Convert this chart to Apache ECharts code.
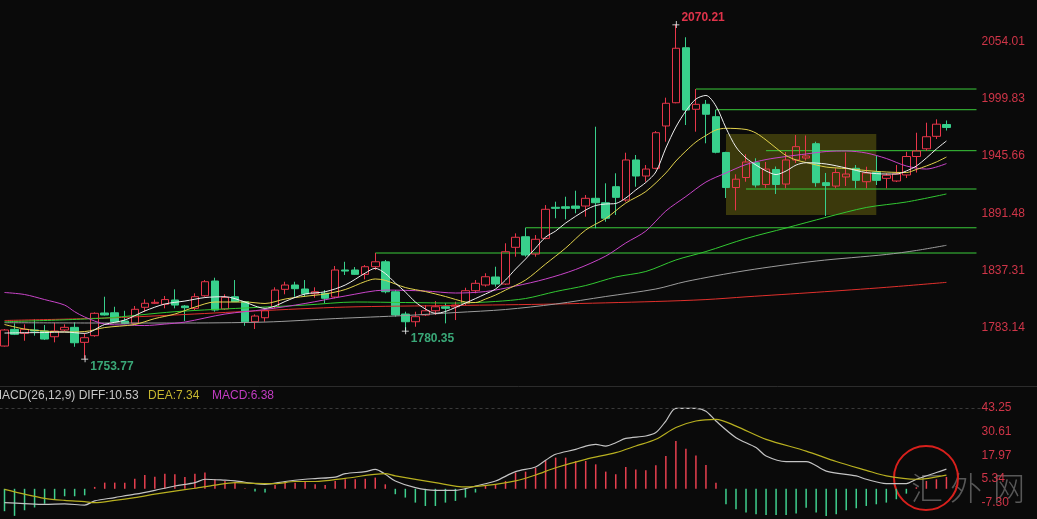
<!DOCTYPE html>
<html>
<head>
<meta charset="utf-8">
<script src="https://cdn.jsdelivr.net/npm/echarts@6/dist/echarts.min.js"></script>
<style>
  html, body { margin: 0; padding: 0; background: #0a0a0a; }
  #chart { width: 1037px; height: 519px; }
</style>
</head>
<body>
<div id="chart"></div>
<script>
// Daily candles: open / close / low / high
const opens = [1765.8,1781.6,1777.8,1781.0,1780.0,1774.6,1781.0,1783.5,1769.3,1775.6,
  1797.1,1797.3,1789.5,1787.3,1802.5,1806.3,1805.3,1809.4,1803.7,1801.5,
  1813.4,1827.4,1800.9,1812.5,1807.8,1788.8,1792.6,1803.0,1819.5,1823.6,
  1819.8,1815.3,1815.7,1812.2,1837.8,1837.8,1833.7,1840.9,1845.6,1817.2,
  1796.1,1788.8,1795.2,1799.2,1803.0,1803.0,1806.3,1818.2,1823.6,1831.2,
  1824.5,1859.3,1869.3,1852.9,1867.8,1897.2,1897.7,1898.4,1898.4,1905.7,
  1901.5,1916.7,1904.1,1942.0,1926.8,1934.1,1974.2,1996.2,2048.3,1990.0,
  1994.7,1983.0,1949.1,1915.9,1925.4,1939.4,1918.8,1933.0,1919.2,1942.0,
  1943.9,1957.4,1920.5,1917.3,1925.9,1934.1,1921.4,1930.4,1924.6,1922.1,
  1927.8,1945.3,1952.6,1964.4,1975.6];
const closes = [1781.0,1776.9,1781.6,1780.0,1772.4,1780.0,1783.5,1768.9,1773.7,1796.8,
  1795.2,1788.8,1787.1,1800.6,1806.3,1807.2,1809.8,1804.6,1802.1,1812.5,
  1826.7,1799.9,1811.9,1807.8,1788.8,1794.2,1799.2,1818.8,1823.6,1820.1,
  1815.3,1817.2,1811.0,1837.8,1836.8,1833.7,1840.9,1845.6,1817.2,1795.2,
  1788.8,1793.6,1799.2,1803.0,1801.5,1804.6,1818.2,1825.2,1831.4,1824.5,
  1855.1,1868.8,1852.0,1866.9,1895.3,1896.2,1896.2,1896.2,1905.7,1901.5,
  1886.8,1906.6,1942.0,1926.8,1933.4,1967.8,1995.7,2047.8,1989.3,1994.7,
  1985.3,1949.3,1915.9,1923.8,1940.1,1918.3,1933.4,1918.8,1942.0,1954.6,
  1945.8,1920.5,1917.8,1930.1,1928.7,1922.7,1929.7,1922.7,1927.5,1928.7,
  1945.3,1950.5,1964.0,1975.9,1972.8];
const lows = [1765.3,1776.2,1770.8,1775.6,1771.5,1769.3,1780.0,1765.1,1753.77,1774.6,
  1794.7,1788.3,1786.4,1786.6,1798.3,1805.6,1801.5,1801.5,1789.5,1799.9,
  1812.5,1798.3,1799.9,1807.5,1785.0,1781.9,1788.8,1801.5,1814.8,1812.5,
  1812.5,1811.6,1806.3,1811.0,1833.1,1833.1,1829.0,1837.8,1815.7,1793.6,
  1780.35,1784.1,1794.2,1795.2,1787.3,1790.4,1804.6,1815.7,1822.0,1822.0,
  1823.6,1850.4,1850.4,1850.4,1866.9,1886.8,1885.8,1891.5,1888.3,1877.3,
  1883.5,1889.9,1902.5,1916.7,1921.4,1933.2,1959.3,1995.7,1975.1,1968.8,
  1957.8,1948.3,1906.0,1894.3,1921.4,1915.9,1915.5,1909.8,1915.2,1939.1,
  1941.5,1916.7,1888.9,1915.2,1917.3,1915.2,1915.2,1918.3,1915.2,1921.1,
  1924.9,1930.1,1950.7,1961.9,1969.9];
const highs = [1781.9,1787.3,1786.4,1791.1,1785.7,1787.9,1786.4,1788.3,1777.8,1797.7,
  1812.5,1803.0,1799.2,1803.7,1810.0,1810.0,1813.2,1819.5,1804.6,1815.7,
  1828.3,1830.5,1814.8,1828.3,1808.4,1795.8,1800.6,1821.4,1826.7,1826.7,
  1828.3,1821.4,1818.8,1841.6,1845.6,1840.6,1842.5,1853.9,1847.3,1818.8,
  1798.3,1798.3,1804.6,1808.4,1806.3,1807.8,1821.0,1828.3,1834.7,1840.9,
  1863.1,1872.5,1877.8,1870.9,1899.3,1902.5,1907.2,1912.9,1908.8,1973.5,
  1919.9,1929.4,1948.9,1946.7,1937.2,1969.4,2001.0,2070.21,2058.2,2009.2,
  1998.8,1989.6,1949.8,1928.4,1947.4,1943.6,1940.1,1935.8,1949.5,1965.6,
  1965.2,1959.3,1929.7,1934.1,1949.1,1937.2,1935.6,1946.2,1929.4,1937.2,
  1949.8,1967.8,1977.3,1980.5,1979.4];

// Moving averages, [candle index, price]
const ma5 = [[0,1778.1],[2,1778.4],[4,1778.6],[6,1779.1],[8,1777.8],[10,1786.2],[12,1790.4],[14,1799.0],[16,1805.6],[18,1808.4],[20,1811.7],[22,1812.5],[24,1807.5],[25,1803.7],[26,1801.5],[27,1803.7],[28,1808.0],[30,1815.1],[32,1817.2],[34,1823.6],[36,1834.9],[37,1839.4],[38,1834.5],[39,1825.5],[40,1817.0],[41,1807.5],[42,1800.9],[43,1796.8],[44,1798.5],[46,1806.5],[48,1815.1],[49,1819.8],[50,1828.3],[51,1838.7],[52,1848.2],[53,1858.6],[54,1869.0],[55,1874.7],[56,1882.3],[58,1894.6],[59,1898.9],[60,1900.3],[61,1900.8],[62,1906.0],[63,1913.6],[64,1920.7],[65,1930.6],[66,1953.3],[67,1973.2],[68,1988.4],[69,1999.7],[70,2003.1],[71,1993.1],[72,1972.3],[73,1954.3],[74,1943.9],[75,1937.2],[76,1931.6],[77,1928.2],[78,1931.6],[79,1937.2],[80,1939.4],[82,1938.2],[84,1934.4],[86,1930.1],[88,1928.7],[89,1928.7],[90,1931.6],[91,1936.3],[92,1943.9],[93,1952.4],[94,1960.0]];
const ma10 = [[0,1786.2],[2,1781.9],[4,1780.0],[6,1779.1],[8,1779.5],[10,1783.3],[13,1786.2],[15,1791.8],[17,1796.1],[19,1802.7],[21,1807.5],[24,1807.5],[26,1806.1],[28,1810.3],[30,1812.9],[32,1815.1],[34,1819.3],[36,1826.9],[37,1829.3],[38,1828.0],[40,1821.2],[42,1817.4],[44,1812.7],[46,1807.5],[47,1807.0],[48,1810.3],[49,1814.1],[50,1818.8],[52,1828.3],[54,1843.5],[56,1858.6],[58,1875.7],[60,1886.6],[62,1901.2],[64,1912.1],[66,1929.7],[67,1941.0],[68,1950.5],[69,1959.0],[70,1965.2],[71,1970.4],[72,1972.0],[74,1970.9],[75,1967.5],[76,1960.9],[77,1953.3],[78,1946.2],[79,1942.0],[80,1939.6],[82,1935.3],[84,1933.9],[86,1932.0],[88,1930.6],[90,1930.1],[91,1933.0],[92,1936.3],[93,1940.1],[94,1944.8]];
const ma20 = [[0,1816.5],[2,1814.6],[4,1809.8],[6,1804.6],[7,1798.3],[8,1793.3],[10,1786.6],[12,1785.7],[14,1785.2],[16,1786.6],[18,1788.5],[22,1796.1],[26,1800.4],[30,1806.1],[34,1813.2],[38,1818.8],[42,1817.9],[45,1816.0],[48,1817.4],[51,1822.6],[54,1829.3],[57,1838.3],[60,1851.0],[62,1863.4],[64,1874.7],[66,1893.7],[68,1907.4],[70,1921.1],[72,1929.7],[74,1937.7],[76,1942.4],[78,1945.3],[80,1947.7],[82,1950.0],[84,1950.5],[86,1948.6],[88,1943.4],[90,1936.3],[92,1933.4],[94,1938.6]];
const ma60 = [[0,1788.8],[10,1792.3],[17,1798.3],[25,1802.3],[30,1804.6],[35,1807.5],[40,1807.0],[45,1806.5],[49,1808.0],[52,1810.8],[55,1817.4],[58,1823.1],[61,1831.2],[64,1836.4],[67,1847.3],[70,1855.3],[74,1867.6],[78,1877.6],[82,1887.7],[86,1897.0],[90,1902.2],[94,1909.8]];
const ma120 = [[0,1787.9],[10,1787.6],[17,1787.6],[26,1788.5],[33,1791.8],[40,1794.7],[45,1797.5],[50,1800.4],[55,1805.6],[60,1812.7],[65,1819.8],[68,1826.9],[74,1837.3],[81,1846.3],[88,1852.5],[91,1856.3],[94,1861.2]];
const ma250 = [[0,1790.0],[10,1792.3],[17,1795.2],[25,1799.0],[34,1802.7],[45,1804.2],[55,1805.6],[65,1808.0],[70,1809.8],[74,1812.4],[81,1816.7],[88,1821.4],[94,1826.1]];

// Horizontal support / resistance levels: starting candle and price
const levelLines = [
  { from: 37, value: 1853.9 },
  { from: 52, value: 1877.8 },
  { from: 69, value: 2009.2 },
  { from: 71, value: 1989.6 },
  { from: 76, value: 1950.8 },
  { from: 74, value: 1914.5 }
];
// Consolidation range
const rangeBox = { from: 72, to: 87, top: 1966.6, bottom: 1889.9 };
// Annotated lows
const markedLows = [8, 40];

// MACD(26,12,9)
const macdHist = [-12,-14.5,-11.5,-10,-8,-5.5,-4,-4,-3.5,1,
  3.3,3.3,3.3,5.4,7.4,6.5,8.1,7.8,6.3,8.1,
  8.7,5.1,4.2,3.3,0.3,-1.5,-2.0,2.0,3.3,3.3,
  3.8,2.4,2.0,4.2,5.1,5.1,5.4,6.0,2.4,-2.9,
  -4.7,-7.4,-9.2,-9.2,-7.4,-6.5,-4.7,-2.0,1.5,2.4,
  4.2,8.7,9.2,11.3,15.3,16.7,16.7,14.9,14.9,13.1,
  9.2,7.8,11.7,10.4,9.9,12.6,17.6,25.6,21.5,17.9,
  12.7,3.3,-8.3,-11.0,-12.7,-13.7,-14.0,-14.0,-14.0,-13.3,
  -10.1,-12.7,-14.6,-13.7,-11.5,-10.4,-9.2,-8.3,-7.4,-5.6,
  -2.6,0.8,4.2,5.1,6.38];
const diffLine = [[0,-7.4],[2,-7.9],[4,-8.3],[6,-8.1],[8,-8.7],[9,-6.5],[11,-4.7],[13,-2.9],[15,-0.8],[17,1.5],[19,3.3],[20,5.1],[22,4.6],[23,4.2],[25,2.8],[26,2.4],[28,3.9],[30,5.1],[31,5.5],[33,6.3],[34,8.1],[36,9.2],[37,10.4],[38,7.8],[39,4.2],[41,0.6],[43,-0.8],[45,-0.8],[46,0.1],[47,1.5],[49,4.2],[51,9.2],[53,11.7],[54,15.3],[55,18.5],[57,21.1],[58,22.9],[59,23.8],[60,22.9],[61,24.7],[62,27.0],[64,28.3],[65,30.1],[66,36.3],[67,43.1],[69,43.1],[70,41.6],[71,36.3],[73,27.4],[75,22.1],[76,17.6],[78,14.6],[80,14.6],[82,9.5],[85,6.9],[86,5.1],[88,2.8],[90,2.8],[91,5.1],[93,8.7],[94,10.53]];
const deaLine = [[0,-0.3],[2,-2.9],[4,-5.1],[6,-6.2],[8,-6.9],[9,-7.4],[11,-6.2],[13,-4.7],[15,-2.9],[17,-1.2],[19,0.3],[21,2.0],[23,3.3],[25,2.9],[27,2.8],[29,3.9],[31,3.9],[34,5.6],[38,8.1],[39,6.9],[43,3.3],[46,1.0],[49,2.4],[51,4.2],[53,7.4],[55,11.3],[58,15.8],[61,19.4],[63,22.9],[65,26.5],[67,32.8],[69,36.3],[71,37.2],[73,33.6],[76,26.5],[80,20.2],[83,14.6],[86,9.9],[88,6.9],[91,5.1],[94,7.34]];

// Axis tick labels
const priceTicks = [1783.14, 1837.31, 1891.48, 1945.66, 1999.83, 2054.01];
const macdTicks = [-7.30, 5.34, 17.97, 30.61, 43.25];

// Three empty slots keep room on the right for the level lines
const categories = opens.map((_, i) => 'd' + (i + 1)).concat(['r1', 'r2', 'r3']);
const lastSlot = categories.length - 1;

const candleData = opens.map((o, i) => [o, closes[i], lows[i], highs[i]]);
const highIdx = highs.indexOf(Math.max(...highs));

const UP = '#e8364a', DOWN = '#38d08c', LEVEL = '#3acb3a';
const FONT = 'Liberation Sans, Arial, sans-serif';
const plus = 'path://M0,4.5H9V5.5H0Z M4.5,0H5.5V9H4.5Z';

function maSeries(name, data, color) {
  return {
    name, type: 'line', xAxisIndex: 0, yAxisIndex: 0, data,
    smooth: 0.3, showSymbol: false, silent: true,
    lineStyle: { color, width: 1 }
  };
}

// Each level is a flat segment from its starting candle to the right edge
const levelSeries = levelLines.map((l, i) => ({
  name: 'level' + i, type: 'line', xAxisIndex: 0, yAxisIndex: 0,
  data: [[l.from, l.value], [lastSlot, l.value]],
  showSymbol: false, silent: true, z: 1,
  lineStyle: { color: LEVEL, width: 1 }
}));

const chart = echarts.init(document.getElementById('chart'), null, { renderer: 'canvas' });
chart.setOption({
  backgroundColor: '#0a0a0a',
  animation: false,
  grid: [
    { left: -0.5, top: 0, width: 982, height: 385, containLabel: false, outerBoundsMode: 'none' },
    { left: -0.5, top: 387, width: 982, height: 132, containLabel: false, outerBoundsMode: 'none' }
  ],
  xAxis: [
    { type: 'category', gridIndex: 0, data: categories, boundaryGap: true, show: false },
    { type: 'category', gridIndex: 1, data: categories, boundaryGap: true, show: false }
  ],
  yAxis: [
    {
      type: 'value', gridIndex: 0, position: 'right', min: 1728.9, max: 2093.5,
      axisLine: { show: false }, axisTick: { show: false }, splitLine: { show: false },
      axisLabel: { customValues: priceTicks, formatter: v => v.toFixed(2), color: '#cf3548', fontSize: 12, fontFamily: FONT, margin: 0 }
    },
    {
      type: 'value', gridIndex: 1, position: 'right', min: -16.18, max: 54.53,
      axisLine: { show: false }, axisTick: { show: false }, splitLine: { show: false },
      axisLabel: { customValues: macdTicks, formatter: v => v.toFixed(2), color: '#cf3548', fontSize: 12, fontFamily: FONT, margin: 0 }
    }
  ],
  series: levelSeries.concat([
    {
      name: 'K', type: 'candlestick', xAxisIndex: 0, yAxisIndex: 0, data: candleData,
      barWidth: 8, silent: true,
      itemStyle: { color: 'transparent', color0: DOWN, borderColor: UP, borderColor0: DOWN, borderWidth: 1 },
      markArea: {
        silent: true,
        itemStyle: { color: 'rgba(128,124,16,0.42)' },
        data: [[{ coord: [rangeBox.from, rangeBox.top] }, { coord: [rangeBox.to, rangeBox.bottom] }]]
      },
      markPoint: {
        silent: true, symbol: plus, symbolSize: 7,
        itemStyle: { color: '#ffffff' },
        label: { show: true, position: 'right', distance: 2, fontSize: 12, fontWeight: 'bold', fontFamily: FONT,
                 formatter: p => Number(p.value).toFixed(2) },
        data: [
          { coord: [highIdx, highs[highIdx]], value: highs[highIdx], label: { color: '#e0334a', offset: [0, -7] } }
        ].concat(markedLows.map(i => ({ coord: [i, lows[i]], value: lows[i], label: { color: '#3aa878', offset: [0, 8] } })))
      }
    },
    maSeries('MA250', ma250, '#e0302c'),
    maSeries('MA120', ma120, '#9c9c9c'),
    maSeries('MA60', ma60, '#32c832'),
    maSeries('MA20', ma20, '#c844c8'),
    maSeries('MA10', ma10, '#e2d24c'),
    maSeries('MA5', ma5, '#f0f0f0'),
    {
      name: 'MACD', type: 'bar', xAxisIndex: 1, yAxisIndex: 1, data: macdHist,
      barWidth: 1.5, silent: true,
      itemStyle: { color: p => (p.value >= 0 ? '#e8404f' : '#3fcf8e') }
    },
    {
      name: 'DIFF', type: 'line', xAxisIndex: 1, yAxisIndex: 1, data: diffLine,
      smooth: 0.3, showSymbol: false, silent: true,
      lineStyle: { color: '#c4c4c4', width: 1.2 },
      markLine: {
        silent: true, symbol: 'none', label: { show: false },
        lineStyle: { color: '#3a3a3a', width: 1, type: [3, 3] },
        data: [{ yAxis: macdTicks[macdTicks.length - 1] }]
      }
    },
    {
      name: 'DEA', type: 'line', xAxisIndex: 1, yAxisIndex: 1, data: deaLine,
      smooth: 0.3, showSymbol: false, silent: true,
      lineStyle: { color: '#b8b020', width: 1.2 }
    }
  ]),
  graphic: [
    { type: 'line', silent: true, shape: { x1: 0, y1: 386.5, x2: 1037, y2: 386.5 }, style: { stroke: '#2c2c2c', lineWidth: 1 } },
    { type: 'text', silent: true, x: -8, y: 395.5, style: { text: 'MACD(26,12,9) DIFF:10.53', fill: '#c8c8c8', font: '12px ' + FONT, textVerticalAlign: 'middle' } },
    { type: 'text', silent: true, x: 148, y: 395.5, style: { text: 'DEA:7.34', fill: '#c8b830', font: '12px ' + FONT, textVerticalAlign: 'middle' } },
    { type: 'text', silent: true, x: 212, y: 395.5, style: { text: 'MACD:6.38', fill: '#c23cc2', font: '12px ' + FONT, textVerticalAlign: 'middle' } },
    { type: 'text', silent: true, x: 911, y: 488, style: { text: '汇', fill: 'rgba(140,140,140,0.6)', font: '300 32px "Noto Sans CJK SC"', textVerticalAlign: 'middle' } },
    { type: 'text', silent: true, x: 950, y: 488, style: { text: '外', fill: 'rgba(140,140,140,0.6)', font: '300 32px "Noto Sans CJK SC"', textVerticalAlign: 'middle' } },
    { type: 'text', silent: true, x: 993, y: 488, style: { text: '网', fill: 'rgba(140,140,140,0.6)', font: '300 32px "Noto Sans CJK SC"', textVerticalAlign: 'middle' } },
    { type: 'circle', silent: true, shape: { cx: 926, cy: 478, r: 32 }, style: { fill: 'none', stroke: '#d8201c', lineWidth: 2 } }
  ]
});
</script>
</body>
</html>
